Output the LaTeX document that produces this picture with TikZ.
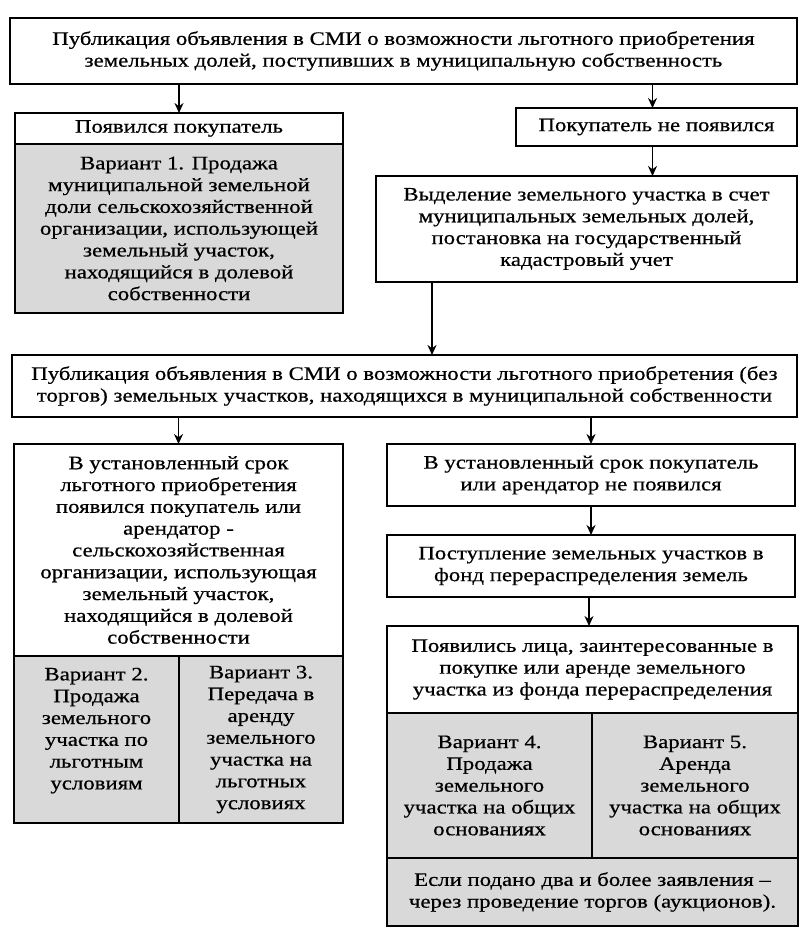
\documentclass[tikz,border=0pt]{standalone}
\usepackage{fontspec}
\setmainfont{Liberation Serif}[FakeStretch=1.2, FakeBold=0.6]
\usetikzlibrary{positioning}
\usetikzlibrary{arrows.meta}

\begin{document}
\begin{tikzpicture}[
            x = 1pt, y = -1pt, % pixel grid of the scheme
            > = {Stealth[length=10pt, width=9pt]}, % arrow head style
            box/.style = {draw, line width=1.1pt, rectangle, align=center,
                inner sep=2pt, outer sep=0pt, anchor=north west,
                font=\fontsize{19}{21.8}\selectfont},
            variant/.style = {box, fill=gray!30},
            link/.style = {->, line width=1.6pt}
        ]
        \useasboundingbox (0,0) rectangle (809,934);

        % upper part
        \node[box, minimum width=787pt, minimum height=66pt] (pub) at (10,18)
            {Публикация объявления в СМИ о возможности льготного приобретения\\
             земельных долей, поступивших в муниципальную собственность};

        \node[box, minimum width=328pt, minimum height=31pt] (buyer) at (15,113) {Появился покупатель};
        \node[variant, minimum width=328pt, minimum height=169pt] (var1) [below=0pt of buyer, anchor=north]
            {Вариант 1. Продажа\\ муниципальной земельной\\ доли сельскохозяйственной\\
             организации, использующей\\ земельный участок,\\ находящийся в долевой\\ собственности};

        \node[box, minimum width=281pt, minimum height=38pt] (nobuyer) at (516,108) {Покупатель не появился};
        \node[box, minimum width=421pt, minimum height=106pt] (alloc) at (376,176)
            {Выделение земельного участка в счет\\ муниципальных земельных долей,\\
             постановка на государственный\\ кадастровый учет};

        % second publication
        \node[box, minimum width=785pt, minimum height=62pt] (pubplot) at (12,355)
            {Публикация объявления в СМИ о возможности льготного приобретения (без\\
             торгов) земельных участков, находящихся в муниципальной собственности};

        % left branch
        \node[box, minimum width=329pt, minimum height=212pt] (term) at (14,444)
            {В установленный срок\\ льготного приобретения\\ появился покупатель или\\
             арендатор -\\ сельскохозяйственная\\ организации, использующая\\
             земельный участок,\\ находящийся в долевой\\ собственности};
        \node[variant, minimum width=165pt, minimum height=167pt] (var2) at (term.south west)
            {Вариант 2.\\ Продажа\\ земельного\\ участка по\\ льготным\\ условиям\\ \mbox{}};
        \node[variant, minimum width=164pt, minimum height=167pt] (var3) [right=0pt of var2]
            {Вариант 3.\\ Передача в\\ аренду\\ земельного\\ участка на\\ льготных\\ условиях};

        % right branch
        \node[box, minimum width=408pt, minimum height=62pt] (noterm) at (387,444)
            {В установленный срок покупатель\\ или арендатор не появился};
        \node[box, minimum width=408pt, minimum height=62pt] (fund) at (387,535)
            {Поступление земельных участков в\\ фонд перераспределения земель};
        \node[box, minimum width=411pt, minimum height=87pt] (persons) at (387,626)
            {Появились лица, заинтересованные в\\ покупке или аренде земельного\\
             участка из фонда перераспределения};
        \node[variant, minimum width=205pt, minimum height=145pt] (var4) at (persons.south west)
            {Вариант 4.\\ Продажа\\ земельного\\ участка на общих\\ основаниях};
        \node[variant, minimum width=206pt, minimum height=145pt] (var5) [right=0pt of var4]
            {Вариант 5.\\ Аренда\\ земельного\\ участка на общих\\ основаниях};
        \node[variant, minimum width=411pt, minimum height=68pt] (auction) at (var4.south west)
            {Если подано два и более заявления –\\ через проведение торгов (аукционов).};

        \draw[link] (buyer.north |- pub.south) -- (buyer.north);
        \draw[link] ([xshift=-4pt]nobuyer.north |- pub.south) -- ([xshift=-4pt]nobuyer.north);
        \draw[link] ([xshift=-4pt]nobuyer.south) -- ([xshift=-4pt]nobuyer.south |- alloc.north);
        \draw[link] ([xshift=56pt]alloc.south west) -- ([xshift=56pt]alloc.south west |- pubplot.north);
        \draw[link] (term.north |- pubplot.south) -- (term.north);
        \draw[link] (noterm.north |- pubplot.south) -- (noterm.north);
        \draw[link] (noterm.south) -- (fund.north);
        \draw[link] ([xshift=-2pt]fund.south) -- ([xshift=-2pt]fund.south |- persons.north);

\end{tikzpicture}
\end{document}
